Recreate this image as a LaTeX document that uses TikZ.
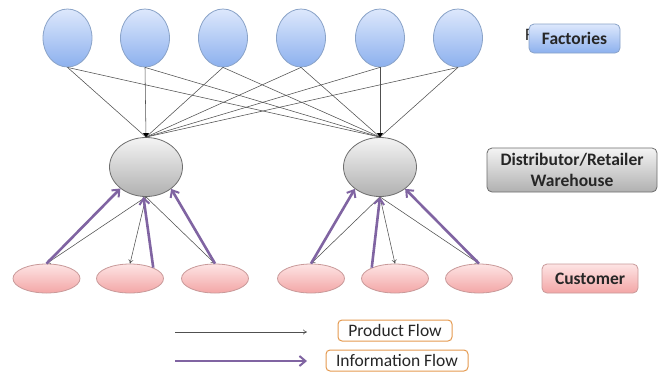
\documentclass[tikz,border=0pt]{standalone}
\usepackage{fontspec}
\setmainfont{Carlito}
\usetikzlibrary{arrows.meta,shapes.geometric}
\definecolor{facT}{HTML}{DDE8FC}
\definecolor{facB}{HTML}{8CB0EE}
\definecolor{facD}{HTML}{8AA3C8}
\definecolor{disT}{HTML}{F4F4F4}
\definecolor{disB}{HTML}{B0B0B0}
\definecolor{disD}{HTML}{6E6E6E}
\definecolor{cusT}{HTML}{FDE4E4}
\definecolor{cusB}{HTML}{F3A6A6}
\definecolor{cusD}{HTML}{C99A9A}
\definecolor{infoc}{HTML}{8064A2}
\definecolor{prodc}{HTML}{505050}
\definecolor{legO}{HTML}{E59A50}
\definecolor{txt}{HTML}{262626}
\tikzset{
  factory/.style={ellipse,draw=facD,line width=0.8pt,top color=facT,bottom color=facB,minimum width=49pt,minimum height=58pt,inner sep=0pt},
  distrib/.style={ellipse,draw=disD,line width=0.8pt,top color=disT,bottom color=disB,minimum width=73pt,minimum height=59pt,inner sep=0pt},
  customer/.style={ellipse,draw=cusD,line width=0.8pt,top color=cusT,bottom color=cusB,minimum width=67pt,minimum height=29pt,inner sep=0pt},
  labelbox/.style={rounded corners=5pt,line width=0.8pt,align=center,font=\fontsize{17.5}{21}\selectfont\bfseries,text=txt,inner sep=0pt},
  product/.style={draw=prodc,line width=0.55pt,-{To[length=4pt,width=5pt]}},
  prodline/.style={draw=prodc,line width=0.55pt},
  info/.style={draw=infoc,line width=2.6pt,-{Straight Barb[length=6pt,width=10pt,line width=2pt]}},
  legbox/.style={draw=legO,line width=1pt,fill=white,rounded corners=4pt,font=\fontsize{17.5}{18}\selectfont,text=txt,inner sep=0pt}
}
\begin{document}
\begin{tikzpicture}[x=1pt,y=-1pt]
\useasboundingbox[fill=white] (0,0) rectangle (659,376);
% factories
\node[factory] (f1) at (67.5,38) {};
\node[factory] (f2) at (145,38) {};
\node[factory] (f3) at (223,38) {};
\node[factory] (f4) at (301,38) {};
\node[factory] (f5) at (380,38) {};
\node[factory] (f6) at (458,38) {};
% distributors
\node[distrib] (d1) at (146,167) {};
\node[distrib] (d2) at (380,167) {};
% customers
\node[customer] (c1) at (46.5,278.5) {};
\node[customer] (c2) at (130,278.5) {};
\node[customer] (c3) at (215,278.5) {};
\node[customer] (c4) at (311,278.5) {};
\node[customer] (c5) at (395,278.5) {};
\node[customer] (c6) at (479,278.5) {};
% factory -> distributor
\foreach \f in {f1,f2,f3,f4,f5,f6}{
  \draw[prodline] (\f.south) -- (d1.north);
  \draw[prodline] (\f.south) -- (d2.north);
}
% arrowheads at distributors
\foreach \d in {d1,d2}{
  \fill[black] (\d.north) ++(-3,-4) -- (\d.north) -- ++(3,-4) -- cycle;
}
% product flow distributor -> customers
\draw[product] (d1.south) -- (c1.north);
\draw[product] (d1.south) -- (c2.north);
\draw[product] (d1.south) -- (c3.north);
\draw[product] (d2.south) -- (c4.north);
\draw[product] (d2.south) -- (c5.north);
\draw[product] (d2.south) -- (c6.north);
% information flow customers -> distributor
\draw[info] (c1.north) -- (d1.220);
\draw[info] (c2.25) -- (d1.265);
\draw[info] (c3.north) -- (d1.319);
\draw[info] (c4.north) -- (d2.221);
\draw[info] (c5.155) -- (d2.270);
\draw[info] (c6.north) -- (d2.319);
% labels
\node[font=\fontsize{17.5}{18}\selectfont,text=txt,anchor=west,inner sep=0pt] (fstray) at (525,35) {F};
\node[labelbox,draw=facD,top color=facT,bottom color=facB,minimum width=91pt,minimum height=29pt] (lf) at (574.5,38.5) {Factories};
\node[labelbox,draw=disD,top color=disT,bottom color=disB,minimum width=170pt,minimum height=44pt] (ld) at (572,170) {Distributor/Retailer\\Warehouse};
\node[labelbox,draw=cusD,top color=cusT,bottom color=cusB,minimum width=96pt,minimum height=29pt] (lc) at (590,278.5) {Customer};
% legend
\coordinate (p1) at (175,332);
\coordinate (p2) at (307,332);
\coordinate (i1) at (175,361);
\coordinate (i2) at (307,361);
\draw[product] (p1) -- (p2);
\draw[info] (i1) -- (i2);
\node[legbox,minimum width=114pt,minimum height=21pt] (lp) at (395,330.5) {Product Flow};
\node[legbox,minimum width=142pt,minimum height=21pt] (li) at (397,360.5) {Information Flow};
\end{tikzpicture}
\end{document}
